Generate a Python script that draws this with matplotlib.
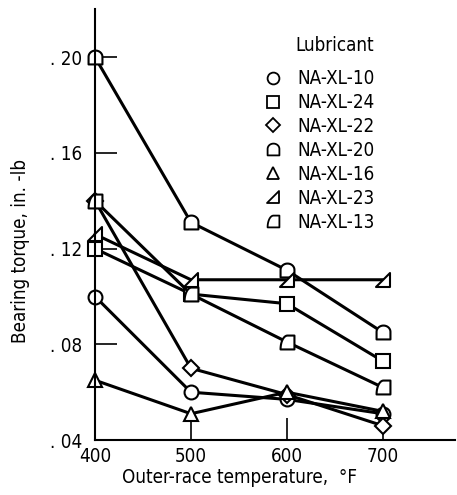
import numpy as np
import matplotlib.pyplot as plt
from matplotlib.path import Path
from matplotlib.lines import Line2D

plt.rcParams['font.family'] = ['Liberation Sans Narrow', 'DejaVu Sans']
plt.rcParams['font.stretch'] = 'condensed'

temps = [400, 500, 600, 700]
names = ['NA-XL-10', 'NA-XL-24', 'NA-XL-22', 'NA-XL-20', 'NA-XL-16', 'NA-XL-23', 'NA-XL-13']
torque_10 = [0.100, 0.060, 0.057, 0.051]
torque_24 = [0.120, 0.101, 0.097, 0.073]
torque_22 = [0.140, 0.070, 0.059, 0.046]
torque_20 = [0.200, 0.131, 0.111, 0.085]
torque_16 = [0.065, 0.051, 0.060, 0.052]
torque_23 = [0.126, 0.107, 0.107, 0.107]
torque_13 = [0.140, 0.101, 0.081, 0.062]
series = [torque_10, torque_24, torque_22, torque_20, torque_16, torque_23, torque_13]

# odd marker shapes from the original figure
t = np.linspace(0, np.pi, 20)
dome = Path(np.vstack([[[1, -1]], np.column_stack([np.cos(t), 0.1 + 0.9*np.sin(t)]), [[-1, -1], [1, -1]]]), closed=True)
halftri = Path([[-1, -1], [1, -1], [1, 1], [-1, -1]], closed=True)
s = np.linspace(0, np.pi/2, 15)
quarter = Path(np.vstack([[[-1, -1], [1, -1], [1, 1]], np.column_stack([-np.sin(s), -1 + 2*np.cos(s)])]), closed=True)
markers = ['o', 's', 'D', dome, '^', halftri, quarter]
sizes = [10, 9.5, 8.5, 10, 10, 10, 10]

fig = plt.figure(figsize=(4.57, 4.95), dpi=100)
ax = fig.add_axes([0.208, 0.111, 0.787, 0.87])

for vals, m, ms in zip(series, markers, sizes):
    ax.plot(temps, vals, color='black', lw=2.2, marker=m, ms=ms,
            mfc='white', mec='black', mew=1.5, clip_on=False)

ax.set_xlim(400, 775)
ax.set_ylim(0.04, 0.22)
ax.set_xticks(temps)
ax.set_yticks([0.04, 0.08, 0.12, 0.16, 0.20])
ax.set_yticklabels(['. 04', '. 08', '. 12', '. 16', '. 20'])
ax.tick_params(direction='in', length=16, width=1.2, labelsize=13.5)
ax.tick_params(axis='x', pad=5)
ax.tick_params(axis='y', pad=9)
ax.spines['top'].set_visible(False)
ax.spines['right'].set_visible(False)
ax.spines['left'].set_linewidth(1.5)
ax.spines['bottom'].set_linewidth(1.5)
ax.set_xlabel('Outer-race temperature,  °F', fontsize=13.5, va='center')
ax.set_ylabel('Bearing torque, in. -lb', fontsize=13.5, va='center')
ax.xaxis.set_label_coords(0.403, -0.088)
ax.yaxis.set_label_coords(-0.208, 0.439)

handles = [Line2D([], [], ls='none', marker=m, ms=ms - 1.5, mfc='white', mec='black', mew=1.3)
           for m, ms in zip(markers, sizes)]
ax.legend(handles, names, frameon=False, fontsize=13.5,
          loc='upper left', bbox_to_anchor=(0.468, 0.861),
          handlelength=1.0, handletextpad=0.8, labelspacing=0.26,
          borderaxespad=0, borderpad=0)
ax.text(0.556, 0.917, 'Lubricant', transform=ax.transAxes, fontsize=13.5, va='center')

fig.savefig('out.png')
